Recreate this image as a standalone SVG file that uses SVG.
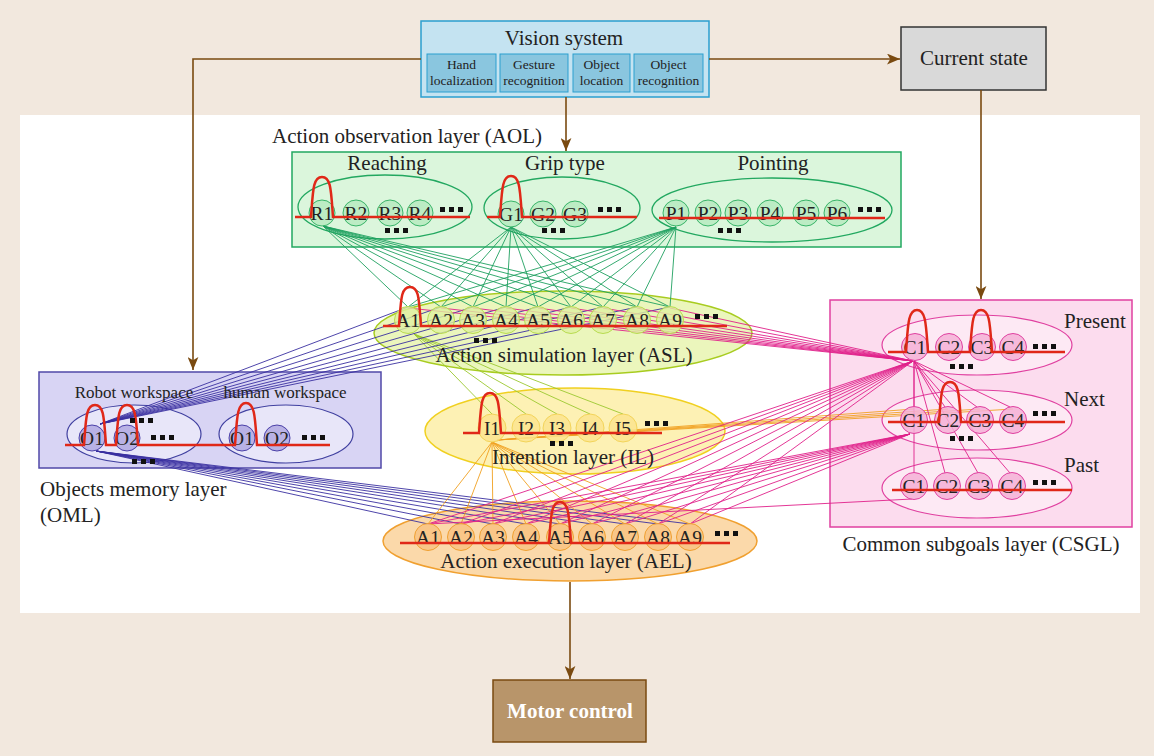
<svg xmlns="http://www.w3.org/2000/svg" xmlns:xlink="http://www.w3.org/1999/xlink" width="1154" height="756" viewBox="0 0 1154 756">
<style>
text{font-family:"Liberation Serif","Times New Roman",serif;fill:#222}
.t21{font-size:21px}
.t17{font-size:17px}
.sub{font-size:13.5px;text-anchor:middle}
.nl{font-size:19.5px;text-anchor:middle}
.mid{text-anchor:middle}
.arrow{fill:none;stroke:#7a4a10;stroke-width:1.6;marker-end:url(#ah)}
.act{fill:none;stroke:#e02818;stroke-width:2.5}
.g{stroke:#1fa060;stroke-width:0.9}
.lg{stroke:#9cc830;stroke-width:0.9}
.b{stroke:#3a30a0;stroke-width:0.9}
.o{stroke:#f0a020;stroke-width:0.9}
.m{stroke:#e0208a;stroke-width:0.9}
.nAOL{fill:#b6eac0;stroke:#38b468;fill-opacity:0.85}
.nASL{fill:#def0a0;stroke:#b8dc50;fill-opacity:0.8}
.nOML{fill:#b0a8e2;stroke:#4a40a8;fill-opacity:0.85}
.nIL{fill:#fce48e;stroke:#f3d45a;fill-opacity:0.85}
.nAEL{fill:#f8c282;stroke:#f0a030;fill-opacity:0.85}
.nCS{fill:#f4b0d6;stroke:#e040a0;fill-opacity:0.85}
</style>
<defs>
<marker id="ah" viewBox="0 0 12 10" refX="12" refY="5" markerWidth="13" markerHeight="11" markerUnits="userSpaceOnUse" orient="auto"><path d="M0,0 L12,5 L0,10 L3,5 Z" fill="#7a4a10"/></marker>
<symbol id="dots" overflow="visible"><rect x="0" y="0" width="5" height="5" fill="#111"/><rect x="9" y="0" width="5" height="5" fill="#111"/><rect x="18" y="0" width="5" height="5" fill="#111"/></symbol>
</defs>
<rect x="0" y="0" width="1154" height="756" fill="#f2e8de"/>
<rect x="20" y="115" width="1120" height="498" fill="#ffffff"/>

<!-- containers -->
<g id="vision-system">
<rect x="421" y="21" width="288" height="76" fill="#c4e3f1" stroke="#2a9fd0" stroke-width="1.5"/>
<text class="t21 mid" x="564" y="45">Vision system</text>
<g fill="#8ac6df" stroke="#2a9fd0" stroke-width="1">
<rect x="427" y="54" width="69" height="38"/><rect x="500" y="54" width="68" height="38"/><rect x="573" y="54" width="57" height="38"/><rect x="634" y="54" width="69" height="38"/>
</g>
<text class="sub" x="461.5" y="69">Hand</text><text class="sub" x="461.5" y="85">localization</text>
<text class="sub" x="534" y="69">Gesture</text><text class="sub" x="534" y="85">recognition</text>
<text class="sub" x="601.5" y="69">Object</text><text class="sub" x="601.5" y="85">location</text>
<text class="sub" x="668.5" y="69">Object</text><text class="sub" x="668.5" y="85">recognition</text>
</g>
<g id="current-state">
<rect x="901" y="27" width="145" height="63" fill="#d9d9d9" stroke="#333" stroke-width="1.5"/>
<text class="t21 mid" x="974" y="65">Current state</text>
</g>
<g id="motor-control">
<rect x="493" y="680" width="153" height="62" fill="#b8956a" stroke="#7a4a10" stroke-width="1.5"/>
<text class="t21 mid" x="570" y="718" font-weight="bold" style="fill:#fff">Motor control</text>
</g>
<g id="AOL">
<text class="t21" x="272" y="143">Action observation layer (AOL)</text>
<rect x="292" y="152" width="609" height="95" fill="#dbf6dc" stroke="#22a860" stroke-width="1.5"/>
<text class="t21 mid" x="387" y="170">Reaching</text>
<text class="t21 mid" x="565" y="170">Grip type</text>
<text class="t21 mid" x="773" y="170">Pointing</text>
<g fill="none" stroke="#22a860" stroke-width="1.3">
<ellipse cx="385" cy="207" rx="87" ry="32"/>
<ellipse cx="562" cy="208" rx="78" ry="31"/>
<ellipse cx="772" cy="210" rx="120" ry="32"/>
</g>
</g>
<g id="ASL">
<ellipse cx="563" cy="333" rx="189" ry="42" fill="#ebf6bc" stroke="#a8cc20" stroke-width="1.5"/>
</g>
<g id="OML">
<rect x="39" y="372" width="342" height="96" fill="#d8d4f4" stroke="#5048a8" stroke-width="1.5"/>
<ellipse cx="134" cy="434" rx="67" ry="29" fill="#e8e6f9" stroke="#4040a0" stroke-width="1.2"/>
<ellipse cx="286" cy="434" rx="67" ry="29" fill="#e8e6f9" stroke="#4040a0" stroke-width="1.2"/>
</g>
<g id="IL">
<ellipse cx="575" cy="431" rx="150" ry="43" fill="#fdf1b4" stroke="#f0d020" stroke-width="1.5"/>
</g>
<g id="AEL">
<ellipse cx="570" cy="541" rx="187" ry="40" fill="#fbd9aa" stroke="#f0a030" stroke-width="1.5"/>
</g>
<g id="CSGL">
<rect x="830" y="300" width="302" height="227" fill="#fcdcee" stroke="#e040a0" stroke-width="1.5"/>
<g fill="#fde9f4" stroke="#e040a0" stroke-width="1.2">
<ellipse cx="977" cy="345" rx="95" ry="30"/>
<ellipse cx="977" cy="420" rx="95" ry="30"/>
<ellipse cx="977" cy="488" rx="95" ry="30"/>
</g>
</g>

<!-- connectors -->
<g id="connectors">
<g id="aol-to-asl" class="g">
<line x1="323" y1="226" x2="408" y2="307"/><line x1="323" y1="226" x2="441" y2="307"/><line x1="323" y1="226" x2="473" y2="307"/><line x1="323" y1="226" x2="506" y2="307"/><line x1="323" y1="226" x2="538" y2="307"/><line x1="323" y1="226" x2="571" y2="307"/><line x1="323" y1="226" x2="603" y2="307"/><line x1="323" y1="226" x2="637" y2="307"/><line x1="323" y1="226" x2="670" y2="307"/>
<line x1="511" y1="227" x2="408" y2="307"/><line x1="511" y1="227" x2="441" y2="307"/><line x1="511" y1="227" x2="473" y2="307"/><line x1="511" y1="227" x2="506" y2="307"/><line x1="511" y1="227" x2="538" y2="307"/><line x1="511" y1="227" x2="571" y2="307"/><line x1="511" y1="227" x2="603" y2="307"/><line x1="511" y1="227" x2="637" y2="307"/><line x1="511" y1="227" x2="670" y2="307"/>
<line x1="676" y1="227" x2="408" y2="307"/><line x1="676" y1="227" x2="441" y2="307"/><line x1="676" y1="227" x2="473" y2="307"/><line x1="676" y1="227" x2="506" y2="307"/><line x1="676" y1="227" x2="538" y2="307"/><line x1="676" y1="227" x2="571" y2="307"/><line x1="676" y1="227" x2="603" y2="307"/><line x1="676" y1="227" x2="637" y2="307"/><line x1="676" y1="227" x2="670" y2="307"/>
</g>
<g id="asl-to-il" class="lg">
<line x1="414" y1="334" x2="492" y2="414"/><line x1="414" y1="334" x2="526" y2="414"/><line x1="414" y1="334" x2="557" y2="414"/><line x1="414" y1="334" x2="590" y2="414"/><line x1="414" y1="334" x2="623" y2="414"/>
</g>
<g id="oml-to-asl" class="b">
<line x1="100" y1="424" x2="408" y2="307"/><line x1="100" y1="424" x2="441" y2="307"/><line x1="100" y1="424" x2="473" y2="307"/><line x1="100" y1="424" x2="506" y2="307"/><line x1="100" y1="424" x2="538" y2="307"/><line x1="100" y1="424" x2="571" y2="307"/><line x1="100" y1="424" x2="603" y2="307"/><line x1="100" y1="424" x2="637" y2="307"/><line x1="100" y1="424" x2="670" y2="307"/>
</g>
<g id="oml-to-ael" class="b">
<line x1="96" y1="451" x2="428" y2="524"/><line x1="96" y1="451" x2="461" y2="524"/><line x1="96" y1="451" x2="493" y2="524"/><line x1="96" y1="451" x2="526" y2="524"/><line x1="96" y1="451" x2="560" y2="524"/><line x1="96" y1="451" x2="592" y2="524"/><line x1="96" y1="451" x2="625" y2="524"/><line x1="96" y1="451" x2="658" y2="524"/><line x1="96" y1="451" x2="690" y2="524"/>
</g>
<g id="il-to-ael" class="o">
<line x1="492" y1="442" x2="428" y2="524"/><line x1="492" y1="442" x2="461" y2="524"/><line x1="492" y1="442" x2="493" y2="524"/><line x1="492" y1="442" x2="526" y2="524"/><line x1="492" y1="442" x2="560" y2="524"/><line x1="492" y1="442" x2="592" y2="524"/><line x1="492" y1="442" x2="625" y2="524"/><line x1="492" y1="442" x2="658" y2="524"/><line x1="492" y1="442" x2="690" y2="524"/>
</g>
<g id="il-to-next" class="o">
<line x1="497" y1="440" x2="914" y2="409"/><line x1="497" y1="440" x2="948" y2="409"/><line x1="497" y1="440" x2="980" y2="409"/><line x1="497" y1="440" x2="1013" y2="409"/>
</g>
<g id="present-to-asl" class="m">
<line x1="913" y1="361" x2="408" y2="308"/><line x1="913" y1="361" x2="441" y2="308"/><line x1="913" y1="361" x2="473" y2="308"/><line x1="913" y1="361" x2="506" y2="308"/><line x1="913" y1="361" x2="538" y2="308"/><line x1="913" y1="361" x2="571" y2="308"/><line x1="913" y1="361" x2="603" y2="308"/><line x1="913" y1="361" x2="637" y2="308"/><line x1="913" y1="361" x2="670" y2="308"/>
</g>
<g id="present-to-ael" class="m">
<line x1="913" y1="361" x2="428" y2="524"/><line x1="913" y1="361" x2="461" y2="524"/><line x1="913" y1="361" x2="493" y2="524"/><line x1="913" y1="361" x2="526" y2="524"/><line x1="913" y1="361" x2="560" y2="524"/><line x1="913" y1="361" x2="592" y2="524"/><line x1="913" y1="361" x2="625" y2="524"/><line x1="913" y1="361" x2="658" y2="524"/><line x1="913" y1="361" x2="690" y2="524"/>
</g>
<g id="present-to-next-past" class="m">
<line x1="914" y1="361" x2="914" y2="407"/><line x1="914" y1="361" x2="945" y2="407"/><line x1="914" y1="361" x2="977" y2="407"/><line x1="914" y1="361" x2="1010" y2="407"/>
<line x1="914" y1="361" x2="914" y2="473"/><line x1="914" y1="361" x2="945" y2="473"/><line x1="914" y1="361" x2="978" y2="473"/><line x1="914" y1="361" x2="1010" y2="473"/>
</g>
<g id="next-to-ael" class="m">
<line x1="910" y1="434" x2="428" y2="524"/><line x1="910" y1="434" x2="461" y2="524"/><line x1="910" y1="434" x2="493" y2="524"/><line x1="910" y1="434" x2="526" y2="524"/><line x1="910" y1="434" x2="560" y2="524"/><line x1="910" y1="434" x2="592" y2="524"/><line x1="910" y1="434" x2="625" y2="524"/><line x1="910" y1="434" x2="658" y2="524"/><line x1="910" y1="434" x2="690" y2="524"/>
</g>
<g id="past-to-ael" class="m">
<line x1="912" y1="499" x2="428" y2="524"/>
</g>
<g id="flow-arrows">
<path class="arrow" d="M421,59 H193 V370"/>
<path class="arrow" d="M709,59 H900"/>
<path class="arrow" d="M566,97 V151"/>
<path class="arrow" d="M981,90 V299"/>
<path class="arrow" d="M570,582 V679"/>
</g>
</g>

<!-- nodes -->
<g id="aol-nodes">
<g id="R1"><circle class="nAOL" cx="322" cy="213" r="13"/><text class="nl" x="322" y="220">R1</text></g>
<g id="R2"><circle class="nAOL" cx="356" cy="213" r="13"/><text class="nl" x="356" y="220">R2</text></g>
<g id="R3"><circle class="nAOL" cx="390" cy="213" r="13"/><text class="nl" x="390" y="220">R3</text></g>
<g id="R4"><circle class="nAOL" cx="420" cy="213" r="13"/><text class="nl" x="420" y="220">R4</text></g>
<g id="G1"><circle class="nAOL" cx="511" cy="214" r="13"/><text class="nl" x="511" y="221">G1</text></g>
<g id="G2"><circle class="nAOL" cx="543" cy="214" r="13"/><text class="nl" x="543" y="221">G2</text></g>
<g id="G3"><circle class="nAOL" cx="575" cy="214" r="13"/><text class="nl" x="575" y="221">G3</text></g>
<g id="P1"><circle class="nAOL" cx="676" cy="213" r="13"/><text class="nl" x="676" y="220">P1</text></g>
<g id="P2"><circle class="nAOL" cx="708" cy="213" r="13"/><text class="nl" x="708" y="220">P2</text></g>
<g id="P3"><circle class="nAOL" cx="738" cy="213" r="13"/><text class="nl" x="738" y="220">P3</text></g>
<g id="P4"><circle class="nAOL" cx="770" cy="213" r="13"/><text class="nl" x="770" y="220">P4</text></g>
<g id="P5"><circle class="nAOL" cx="806" cy="213" r="13"/><text class="nl" x="806" y="220">P5</text></g>
<g id="P6"><circle class="nAOL" cx="837" cy="213" r="13"/><text class="nl" x="837" y="220">P6</text></g>
</g>
<g id="asl-nodes">
<g id="ASL-A1"><circle class="nASL" cx="408" cy="320" r="13.5"/><text class="nl" x="408" y="327">A1</text></g>
<g id="ASL-A2"><circle class="nASL" cx="441" cy="320" r="13.5"/><text class="nl" x="441" y="327">A2</text></g>
<g id="ASL-A3"><circle class="nASL" cx="473" cy="320" r="13.5"/><text class="nl" x="473" y="327">A3</text></g>
<g id="ASL-A4"><circle class="nASL" cx="506" cy="320" r="13.5"/><text class="nl" x="506" y="327">A4</text></g>
<g id="ASL-A5"><circle class="nASL" cx="538" cy="320" r="13.5"/><text class="nl" x="538" y="327">A5</text></g>
<g id="ASL-A6"><circle class="nASL" cx="571" cy="320" r="13.5"/><text class="nl" x="571" y="327">A6</text></g>
<g id="ASL-A7"><circle class="nASL" cx="603" cy="320" r="13.5"/><text class="nl" x="603" y="327">A7</text></g>
<g id="ASL-A8"><circle class="nASL" cx="637" cy="320" r="13.5"/><text class="nl" x="637" y="327">A8</text></g>
<g id="ASL-A9"><circle class="nASL" cx="670" cy="320" r="13.5"/><text class="nl" x="670" y="327">A9</text></g>
</g>
<g id="oml-nodes">
<g id="robot-O1"><circle class="nOML" cx="92" cy="438" r="13"/><text class="nl" x="92" y="445">O1</text></g>
<g id="robot-O2"><circle class="nOML" cx="127" cy="438" r="13"/><text class="nl" x="127" y="445">O2</text></g>
<g id="human-O1"><circle class="nOML" cx="242" cy="438" r="13"/><text class="nl" x="242" y="445">O1</text></g>
<g id="human-O2"><circle class="nOML" cx="277" cy="438" r="13"/><text class="nl" x="277" y="445">O2</text></g>
</g>
<g id="il-nodes">
<g id="I1"><circle class="nIL" cx="492" cy="428" r="14"/><text class="nl" x="492" y="435">I1</text></g>
<g id="I2"><circle class="nIL" cx="526" cy="428" r="14"/><text class="nl" x="526" y="435">I2</text></g>
<g id="I3"><circle class="nIL" cx="557" cy="428" r="14"/><text class="nl" x="557" y="435">I3</text></g>
<g id="I4"><circle class="nIL" cx="590" cy="428" r="14"/><text class="nl" x="590" y="435">I4</text></g>
<g id="I5"><circle class="nIL" cx="623" cy="428" r="14"/><text class="nl" x="623" y="435">I5</text></g>
</g>
<g id="ael-nodes">
<g id="AEL-A1"><circle class="nAEL" cx="428" cy="537" r="13.5"/><text class="nl" x="428" y="544">A1</text></g>
<g id="AEL-A2"><circle class="nAEL" cx="461" cy="537" r="13.5"/><text class="nl" x="461" y="544">A2</text></g>
<g id="AEL-A3"><circle class="nAEL" cx="493" cy="537" r="13.5"/><text class="nl" x="493" y="544">A3</text></g>
<g id="AEL-A4"><circle class="nAEL" cx="526" cy="537" r="13.5"/><text class="nl" x="526" y="544">A4</text></g>
<g id="AEL-A5"><circle class="nAEL" cx="560" cy="537" r="13.5"/><text class="nl" x="560" y="544">A5</text></g>
<g id="AEL-A6"><circle class="nAEL" cx="592" cy="537" r="13.5"/><text class="nl" x="592" y="544">A6</text></g>
<g id="AEL-A7"><circle class="nAEL" cx="625" cy="537" r="13.5"/><text class="nl" x="625" y="544">A7</text></g>
<g id="AEL-A8"><circle class="nAEL" cx="658" cy="537" r="13.5"/><text class="nl" x="658" y="544">A8</text></g>
<g id="AEL-A9"><circle class="nAEL" cx="690" cy="537" r="13.5"/><text class="nl" x="690" y="544">A9</text></g>
</g>
<g id="csgl-nodes">
<g id="present-C1"><circle class="nCS" cx="915" cy="347" r="13.5"/><text class="nl" x="915" y="354">C1</text></g>
<g id="present-C2"><circle class="nCS" cx="949" cy="347" r="13.5"/><text class="nl" x="949" y="354">C2</text></g>
<g id="present-C3"><circle class="nCS" cx="982" cy="347" r="13.5"/><text class="nl" x="982" y="354">C3</text></g>
<g id="present-C4"><circle class="nCS" cx="1013" cy="347" r="13.5"/><text class="nl" x="1013" y="354">C4</text></g>
<g id="next-C1"><circle class="nCS" cx="914" cy="420" r="13.5"/><text class="nl" x="914" y="427">C1</text></g>
<g id="next-C2"><circle class="nCS" cx="948" cy="420" r="13.5"/><text class="nl" x="948" y="427">C2</text></g>
<g id="next-C3"><circle class="nCS" cx="980" cy="420" r="13.5"/><text class="nl" x="980" y="427">C3</text></g>
<g id="next-C4"><circle class="nCS" cx="1013" cy="420" r="13.5"/><text class="nl" x="1013" y="427">C4</text></g>
<g id="past-C1"><circle class="nCS" cx="914" cy="486" r="13.5"/><text class="nl" x="914" y="493">C1</text></g>
<g id="past-C2"><circle class="nCS" cx="947" cy="486" r="13.5"/><text class="nl" x="947" y="493">C2</text></g>
<g id="past-C3"><circle class="nCS" cx="979" cy="486" r="13.5"/><text class="nl" x="979" y="493">C3</text></g>
<g id="past-C4"><circle class="nCS" cx="1012" cy="486" r="13.5"/><text class="nl" x="1012" y="493">C4</text></g>
</g>

<!-- activation curves -->
<g id="activations">
<path class="act" d="M295,217 L311,217 C313,190 313,177 322,177 C331,177 331,190 333,217 L470,217"/>
<path class="act" d="M487,217 L500,217 C502,190 502,176 511,176 C520,176 520,190 522,217 L637,217"/>
<path class="act" d="M659,218 L885,218"/>
<path class="act" d="M383,326 L399,326 C401,299 401,287 410,287 C419,287 419,299 421,326 L727,326"/>
<path class="act" d="M463,433 L479,433 C481,406 481,393 490,393 C499,393 499,406 501,433 L662,433"/>
<path class="act" d="M400,543 L549,543 C551,516 551,502 560,502 C569,502 569,516 571,543 L730,543"/>
<path class="act" d="M65,445 L84,445 C86,418 86,405 95,405 C104,405 104,418 106,445 L116,445 C118,418 118,405 127,405 C136,405 136,418 138,445 L235,445 C237,418 237,403 246,403 C255,403 255,418 257,445 L330,445"/>
<path class="act" d="M888,352 L906,352 C908,325 908,310 917,310 C926,310 926,325 928,352 L970,352 C972,325 972,310 981,310 C990,310 990,325 992,352 L1065,352"/>
<path class="act" d="M888,422 L939,422 C941,395 941,382 950,382 C959,382 959,395 961,422 L1065,422"/>
<path class="act" d="M892,490 L1072,490"/>
</g>

<!-- ellipsis marks -->
<g id="ellipsis-marks">
<use xlink:href="#dots" x="440" y="207"/><use xlink:href="#dots" x="385" y="228"/>
<use xlink:href="#dots" x="598" y="207"/><use xlink:href="#dots" x="542" y="228"/>
<use xlink:href="#dots" x="858" y="207"/><use xlink:href="#dots" x="718" y="228"/>
<use xlink:href="#dots" x="695" y="314"/><use xlink:href="#dots" x="474" y="338"/>
<use xlink:href="#dots" x="151" y="435"/><use xlink:href="#dots" x="130" y="418"/><use xlink:href="#dots" x="132" y="459"/>
<use xlink:href="#dots" x="302" y="435"/>
<use xlink:href="#dots" x="645" y="421"/><use xlink:href="#dots" x="550" y="441"/>
<use xlink:href="#dots" x="715" y="531"/>
<use xlink:href="#dots" x="1033" y="344"/><use xlink:href="#dots" x="950" y="364"/>
<use xlink:href="#dots" x="1033" y="411"/><use xlink:href="#dots" x="950" y="436"/>
<use xlink:href="#dots" x="1033" y="480"/>
</g>

<!-- layer labels -->
<g id="labels">
<text class="t21 mid" x="564" y="362">Action simulation layer (ASL)</text>
<text class="t21 mid" x="573" y="464">Intention layer (IL)</text>
<text class="t21 mid" x="566" y="568">Action execution layer (AEL)</text>
<text class="t21 mid" x="981" y="551">Common subgoals layer (CSGL)</text>
<text class="t21" x="40" y="496">Objects memory layer</text>
<text class="t21" x="40" y="522">(OML)</text>
<text class="t17 mid" x="134" y="398">Robot workspace</text>
<text class="t17 mid" x="285" y="398">human workspace</text>
<text class="t21" x="1064" y="328">Present</text>
<text class="t21" x="1064" y="406">Next</text>
<text class="t21" x="1064" y="472">Past</text>
</g>
</svg>
